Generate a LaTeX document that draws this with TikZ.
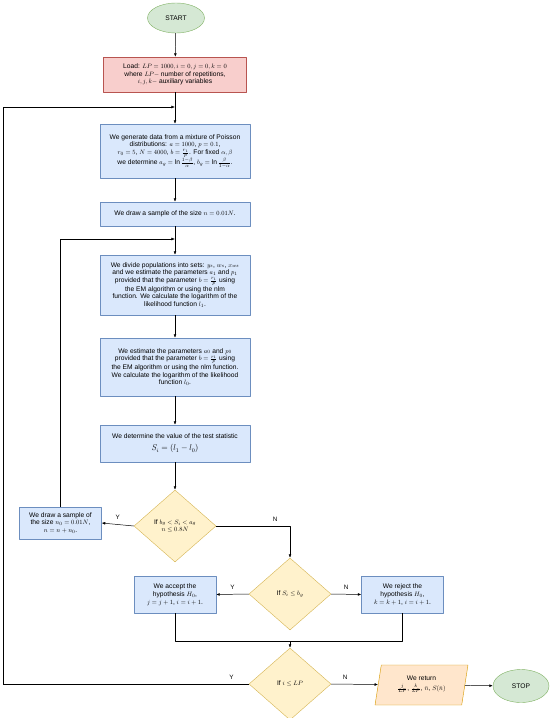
\documentclass[tikz,border=0pt]{standalone}
\usepackage{fontspec}
\setmainfont{Liberation Sans}
\usetikzlibrary{arrows.meta, shapes.geometric, positioning, calc}
\definecolor{boxblue}{HTML}{DAE8FC}
\definecolor{lineblue}{HTML}{6C8EBF}
\definecolor{boxred}{HTML}{F8CECC}
\definecolor{linered}{HTML}{B85450}
\definecolor{boxyellow}{HTML}{FFF2CC}
\definecolor{lineyellow}{HTML}{D6B656}
\definecolor{boxgreen}{HTML}{D5E8D4}
\definecolor{linegreen}{HTML}{82B366}
\definecolor{boxorange}{HTML}{FFE6CC}
\definecolor{lineorange}{HTML}{D79B00}
\tikzset{
  base/.style={font=\fontsize{9.5}{11}\selectfont, align=flush center, inner sep=1pt},
  stepbox/.style={base, rectangle, draw=lineblue, fill=boxblue, line width=0.6pt, minimum width=7.5cm, text width=7.4cm},
  smallbox/.style={base, rectangle, draw=lineblue, fill=boxblue, line width=0.6pt, minimum width=4.1cm, text width=4cm},
  loadbox/.style={base, rectangle, draw=linered, fill=boxred, line width=0.6pt, minimum width=7.15cm, text width=7.05cm},
  decision/.style={base, diamond, draw=lineyellow, fill=boxyellow, line width=0.6pt, inner sep=0pt, minimum width=4.1cm, minimum height=3.6cm},
  terminal/.style={base, ellipse, draw=linegreen, fill=boxgreen, line width=0.6pt, minimum width=2.85cm, minimum height=1.5cm},
  ioput/.style={base, trapezium, trapezium stretches=true, trapezium left angle=75, trapezium right angle=105, draw=lineorange, fill=boxorange, line width=0.6pt, minimum width=4.65cm, minimum height=2cm, text width=3.3cm},
  arr/.style={-{Latex[length=5pt, width=4pt]}, line width=0.7pt},
  lnk/.style={line width=0.7pt},
  yn/.style={font=\fontsize{9}{10}\selectfont}
}
\begin{document}
\begin{tikzpicture}[x=0.05cm, y=-0.05cm, line join=round]
  \useasboundingbox (0,0) rectangle (550,718);

  % Inicio y carga
  \node[terminal] (start) at (176,18) {START};
  \node[loadbox, minimum height=1.75cm] (load) at (175,74.5) {Load: $LP=1000, i=0, j=0, k=0$\\ where $LP-$ number of repetitions,\\ $i,j,k-$ auxiliary variables};

  % Generacion de datos
  \node[stepbox, minimum height=2.7cm] (gen) at (175,151) {We generate data from a mixture of Poisson\\ distributions: $a=1000$, $p=0.1$,\\ $r_0=5$, $N=4000$, $b=\frac{r_1}{p}$. For fixed $\alpha,\beta$\\ we determine $a_g=\ln\frac{1-\beta}{\alpha}$, $b_g=\ln\frac{\beta}{1-\alpha}$.};
  \node[stepbox, minimum height=1.2cm] (samp) at (175,214) {We draw a sample of the size $n=0.01N$.};

  % Estimacion
  \node[stepbox, minimum height=3cm] (divide) at (175,285) {We divide populations into sets: $y_s$, $w_s$, $x_{ws}$\\ and we estimate the parameters $a_1$ and $p_1$\\ provided that the parameter $b=\frac{r_1}{p}$ using\\ the EM algorithm or using the nlm\\ function. We calculate the logarithm of the\\ likelihood function $l_1$.};
  \node[stepbox, minimum height=2.9cm] (estim) at (175,367) {We estimate the parameters $a_0$ and $p_0$\\ provided that the parameter $b=\frac{r_1}{p}$ using\\ the EM algorithm or using the nlm function.\\ We calculate the logarithm of the likelihood\\ function $l_0$.};
  \node[stepbox, minimum height=1.85cm] (stat) at (175,443.5) {We determine the value of the test statistic\\[6pt] {\large $S_i=(l_1-l_0)$}};

  % Decisiones
  \node[decision] (dec1) at (175,526) {If $b_g<S_i<a_g$\\ $n\le 0.8N$};
  \node[smallbox, minimum height=1.6cm] (more) at (60.5,523) {We draw a sample of\\ the size $n_0=0.01N$,\\ $n=n+n_0$.};
  \node[decision] (dec2) at (290,594) {If $S_i\le b_g$};
  \node[smallbox, minimum height=1.85cm] (accept) at (175,594.5) {We accept the\\ hypothesis $H_0$,\\ $j=j+1$, $i=i+1$.};
  \node[smallbox, minimum height=1.85cm] (reject) at (402.5,594.5) {We reject the\\ hypothesis $H_0$,\\ $k=k+1$, $i=i+1$.};
  \node[decision] (dec3) at (290,684) {If $i\le LP$};
  \node[ioput] (ret) at (421.5,685) {We return\\[3pt] $\frac{j}{\mathstrut LP}$, $\frac{k}{\mathstrut LP}$, $\bar{n}$, $S(\bar{n})$};
  \node[terminal, minimum width=2.8cm, minimum height=1.65cm] (stop) at (521,686) {STOP};

  % Puntos de union
  \coordinate (j0) at (175,107);
  \coordinate (j1) at (175,239);
  \coordinate (m0) at (290,641);
  \coordinate (c0) at (3,684);

  % Flechas principales
  \draw[arr] (start) -- (load);
  \draw[arr] (load) -- (gen);
  \draw[arr] (gen) -- (samp);
  \draw[arr] (samp) -- (divide);
  \draw[arr] (divide) -- (estim);
  \draw[arr] (estim) -- (stat);
  \draw[arr] (stat) -- (dec1);

  % Ramas
  \draw[arr] (dec1.west) -- node[yn, above=3pt] {Y} (more.east);
  \draw[arr] (more.north) |- (j1);
  \draw[arr] (dec1.east) -| node[yn, above=3pt, pos=0.4] {N} (dec2.north);
  \draw[arr] (dec2.west) -- node[yn, above=3pt] {Y} (accept.east);
  \draw[arr] (dec2.east) -- node[yn, above=3pt] {N} (reject.west);
  \draw[lnk] (accept.south) |- (m0);
  \draw[lnk] (reject.south) |- (m0);
  \draw[arr] (m0) -- (dec3.north);
  \draw[lnk] (dec3.west) -- node[yn, above=3pt, pos=0.07] {Y} (c0);
  \draw[arr] (c0) |- (j0);
  \draw[arr] (dec3.east) -- node[yn, above=3pt, pos=0.3] {N} (ret);
  \draw[arr] (ret) -- (stop);
\end{tikzpicture}
\end{document}
